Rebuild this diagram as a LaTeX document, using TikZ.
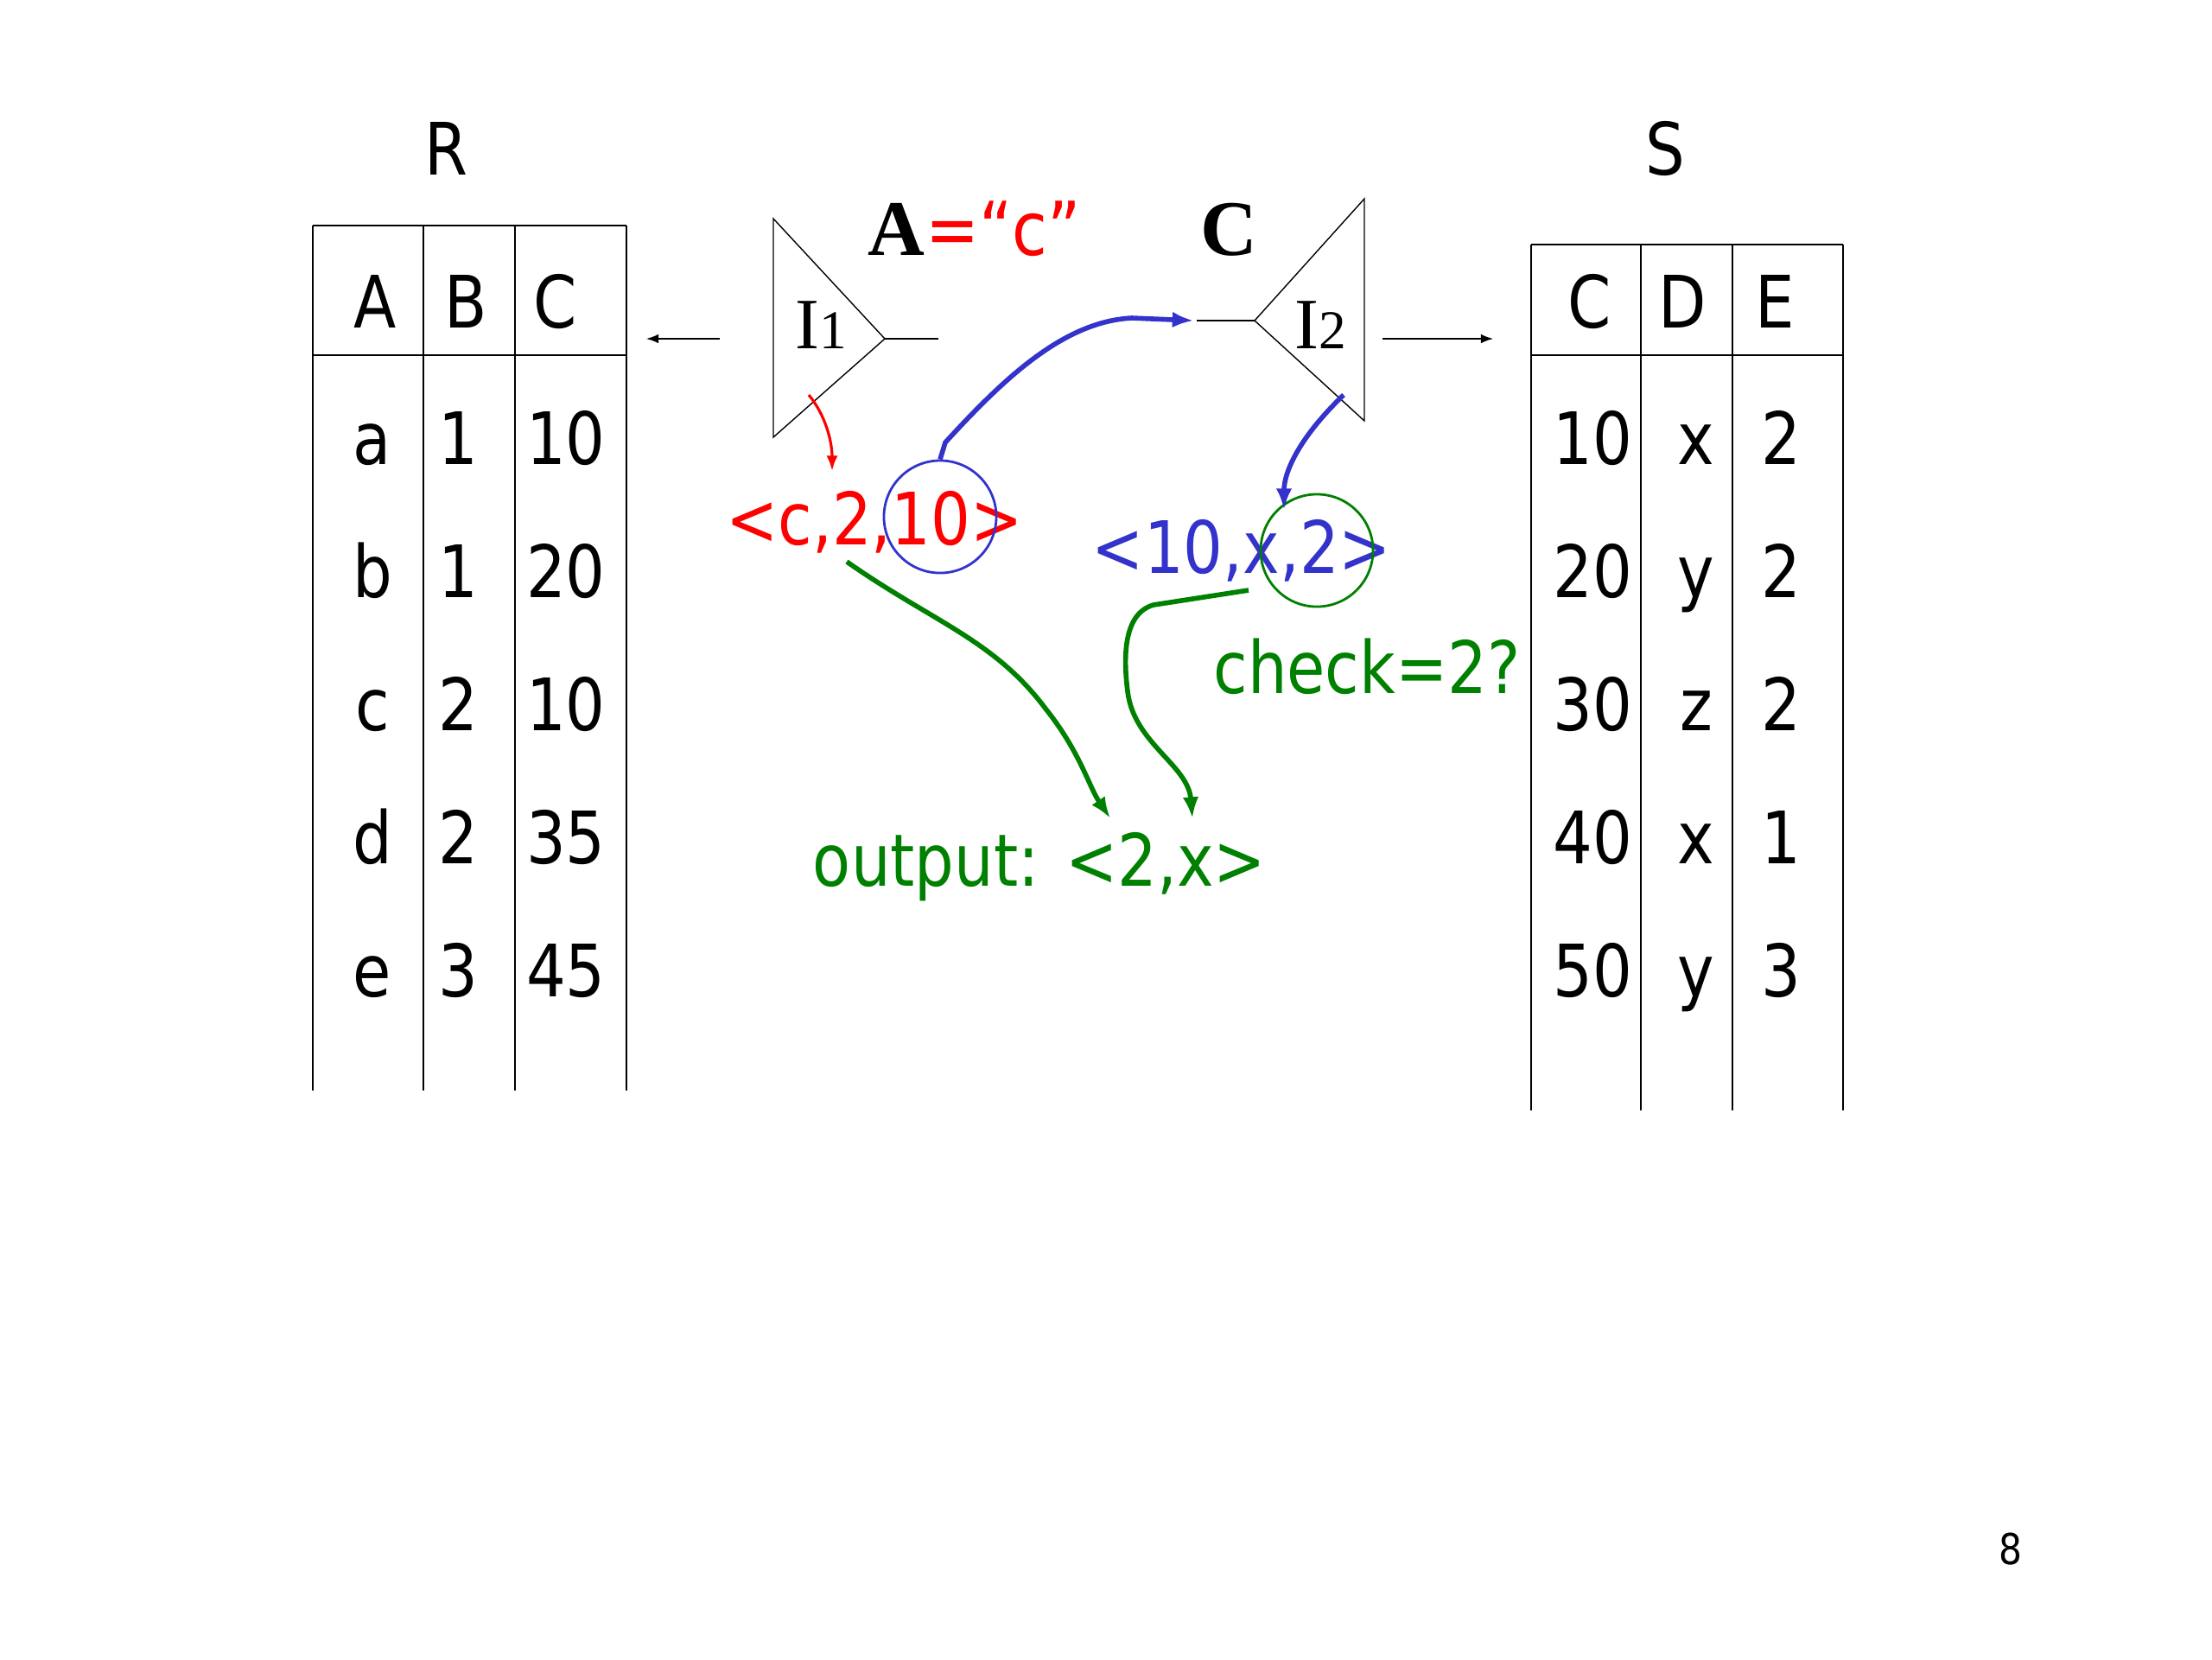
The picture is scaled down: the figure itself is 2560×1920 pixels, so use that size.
\documentclass[tikz,border=0pt]{standalone}
\usepackage{fontspec}
\setmainfont{DejaVu Sans}[FakeStretch=0.86]
\newfontfamily\serifface{Liberation Serif}
\usetikzlibrary{positioning,arrows.meta}
\definecolor{slidered}{RGB}{255,0,0}
\definecolor{slideblue}{RGB}{51,51,204}
\definecolor{slidegreen}{RGB}{0,128,0}

\begin{document}
\begin{tikzpicture}[x=0.01cm,y=-0.01cm, every node/.style={font=\fontsize{23.8}{28}\selectfont,inner sep=0pt},
    tablerule/.style={line width=0.7pt},
    bigserif/.style={font=\serifface\bfseries\fontsize{25.9}{30}\selectfont}]
        \useasboundingbox (0,0) rectangle (2560,1920);

        % relation R
        \node[anchor=base] (rname) at (516,202) {R};
        \draw[tablerule] (362,261) -- (725,261) (362,411) -- (725,411);
        \foreach \x in {362,490,596,725} \draw[tablerule] (\x,261) -- (\x,1262);
        \foreach \x/\t in {434/A,539/B,643/C} \node[anchor=base] (rh\t) at (\x,379) {\t};
        \foreach \a/\b/\c [count=\i] in {a/1/10,b/1/20,c/2/10,d/2/35,e/3/45} {
          \node[anchor=base] (r\i a) at (431,{383+154*\i}) {\a};
          \node[anchor=base] (r\i b) at (530,{383+154*\i}) {\b};
          \node[anchor=base] (r\i c) at (655,{383+154*\i}) {\c};
        }

        % relation S
        \node[anchor=base] (sname) at (1927,202) {S};
        \draw[tablerule] (1772,283) -- (2133,283) (1772,411) -- (2133,411);
        \foreach \x in {1772,1899,2005,2133} \draw[tablerule] (\x,283) -- (\x,1285);
        \foreach \x/\t in {1840/C,1947/D,2054/E} \node[anchor=base] (sh\t) at (\x,379) {\t};
        \foreach \c/\d/\e [count=\i] in {10/x/2,20/y/2,30/z/2,40/x/1,50/y/3} {
          \node[anchor=base] (s\i c) at (1843,{383+154*\i}) {\c};
          \node[anchor=base] (s\i d) at (1963,{383+154*\i}) {\d};
          \node[anchor=base] (s\i e) at (2061,{383+154*\i}) {\e};
        }

        % index I1 on R.A
        \draw (895,253) -- (1024,392) coordinate (i1tip) -- (895,506) -- cycle;
        \draw (i1tip) -- (1086,392);
        \node[anchor=base] (i1) at (950,403) {\serifface I{\fontsize{18}{20}\selectfont 1}};
        \coordinate (i1out) at (833,392);
        \coordinate (rin) at (748,392);
        \draw[-{Latex[length=4pt]}] (i1out) -- (rin);
        \node[bigserif,anchor=base] (selattr) at (1037,295) {A};
        \node[anchor=base west,text=slidered,font=\fontsize{24.5}{30}\selectfont] (selval) at (selattr.base east) {=“c”};

        % index I2 on S.C
        \draw (1579,230) -- (1452,371) coordinate (i2tip) -- (1579,487) -- cycle;
        \draw (i2tip) -- (1385,371) coordinate (i2in);
        \node[anchor=base] (i2) at (1528,403) {\serifface I{\fontsize{18}{20}\selectfont 2}};
        \node[bigserif,anchor=base] (joinattr) at (1422,295) {C};
        \coordinate (i2out) at (1600,392);
        \coordinate (sin) at (1728,392);
        \draw[-{Latex[length=4pt]}] (i2out) -- (sin);

        % tuples
        \node[text=slidered] (tupr) at (1012,604) {<c,2,10>};
        \node[draw=slideblue,line width=0.8pt,circle,minimum size=1.3cm] (keyr) at (1088,598) {};
        \node[text=slideblue] (tups) at (1437,637) {<10,x,2>};
        \node[draw=slidegreen,line width=0.8pt,circle,minimum size=1.3cm] (keys) at (1524,637) {};
        \node[text=slidegreen] (check) at (1582,771) {check=2?};
        \node[text=slidegreen] (outt) at (1203,1003) {output: <2,x>};
        \node[font=\fontsize{14}{16}\selectfont] (pagenum) at (2327,1793) {8};

        \coordinate (i1low) at (936,457);
        \coordinate (i2low) at (1555,457);
        \draw[-{Latex[length=5pt]},slidered,line width=0.9pt] (i1low) .. controls (955,480) and (963,510) .. (963,545);
        \draw[-{Latex[length=7pt]},slideblue,line width=1.6pt] (keyr.north) -- (1094,512) .. controls (1160,440) and (1230,372) .. (1310,368) -- ([xshift=-1pt]i2in);
        \draw[-{Latex[length=7pt]},slideblue,line width=1.6pt] (i2low) .. controls (1505,505) and (1486,545) .. (1486,590);
        \draw[-{Latex[length=7pt]},slidegreen,line width=1.6pt] (980,650) .. controls (1080,720) and (1150,740) .. (1210,820) .. controls (1250,870) and (1260,910) .. (1285,947);
        \draw[-{Latex[length=7pt]},slidegreen,line width=1.6pt] (1445,683) -- (1335,700) .. controls (1300,710) and (1300,760) .. (1305,800) .. controls (1312,860) and (1375,885) .. (1380,947);
      \end{tikzpicture}
\end{document}
